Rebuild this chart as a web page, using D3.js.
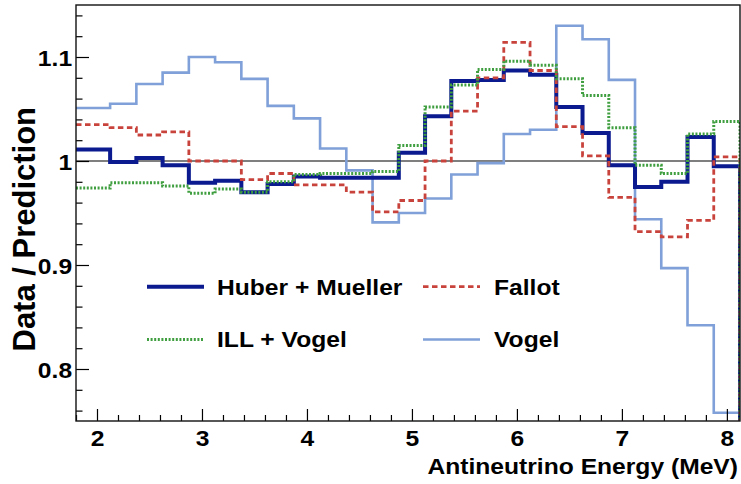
<!DOCTYPE html>
<html>
<head>
<meta charset="utf-8">
<script src="https://cdn.jsdelivr.net/npm/d3@7"></script>
<style>
  html, body { margin: 0; padding: 0; background: #fff; }
  svg { display: block; }
  text { font-family: "Liberation Sans", Arial, Helvetica, sans-serif; font-weight: bold; fill: #000; }
</style>
</head>
<body>
<svg id="chart" width="741" height="484"></svg>
<script>
// Bin edges in antineutrino energy (MeV)
const binEdges = [1.8, 2.125, 2.375, 2.625, 2.875, 3.125, 3.375, 3.625, 3.875, 4.125,
  4.375, 4.625, 4.875, 5.125, 5.375, 5.625, 5.875, 6.125, 6.375, 6.625,
  6.875, 7.125, 7.375, 7.625, 7.875, 8.125];

// Data / prediction ratio per bin for each flux model
const huberMueller = [1.011, 0.999, 1.003, 0.996, 0.979, 0.981, 0.970, 0.978, 0.985, 0.984,
  0.984, 0.984, 1.008, 1.043, 1.077, 1.078, 1.087, 1.083, 1.052, 1.027,
  0.996, 0.975, 0.980, 1.023, 0.995];
const fallot = [1.035, 1.032, 1.025, 1.028, 1.000, 1.000, 0.982, 0.988, 0.977, 0.977,
  0.970, 0.951, 0.962, 1.000, 1.048, 1.080, 1.114, 1.087, 1.033, 1.005,
  0.965, 0.932, 0.927, 0.943, 1.004];
const illVogel = [0.974, 0.979, 0.979, 0.976, 0.969, 0.973, 0.970, 0.980, 0.987, 0.988,
  0.988, 0.990, 1.015, 1.052, 1.073, 1.088, 1.096, 1.092, 1.079, 1.063,
  1.032, 0.996, 0.988, 1.026, 1.038];
const vogel = [1.051, 1.055, 1.074, 1.085, 1.100, 1.095, 1.079, 1.053, 1.041, 1.012,
  0.991, 0.941, 0.950, 0.964, 0.987, 0.998, 1.026, 1.030, 1.130, 1.117,
  1.078, 0.944, 0.897, 0.842, 0.758];

const seriesNames = ["Huber + Mueller", "Fallot", "ILL + Vogel", "Vogel"];
const xTickValues = [2, 3, 4, 5, 6, 7, 8];
const yTickValues = [0.8, 0.9, 1.0, 1.1];
const xDomain = [1.8, 8.125];
const yDomain = [0.75, 1.15];
const xTitle = "Antineutrino Energy (MeV)";
const yTitle = "Data / Prediction";

const svg = d3.select("#chart");
const plot = { left: 76, right: 740, top: 5, bottom: 421 };
const STRETCH = 1.12; // wide-set lettering

const x = d3.scaleLinear().domain(xDomain).range([plot.left, plot.right]);
const y = d3.scaleLinear().domain(yDomain).range([plot.bottom, plot.top]);

svg.append("defs").append("clipPath").attr("id", "plotClip")
  .append("rect")
  .attr("x", plot.left).attr("y", plot.top)
  .attr("width", plot.right - plot.left).attr("height", plot.bottom - plot.top);

// Reference line at ratio = 1
svg.append("line")
  .attr("x1", x(xDomain[0])).attr("x2", x(xDomain[1]))
  .attr("y1", y(1)).attr("y2", y(1))
  .attr("stroke", "#000").attr("stroke-width", 1.2);

// Step histograms
const series = [
  { name: seriesNames[3], values: vogel,        color: "#7fa0d8", width: 2.6, dash: null },
  { name: seriesNames[0], values: huberMueller, color: "#0b1b8f", width: 4,   dash: null },
  { name: seriesNames[1], values: fallot,       color: "#c9433d", width: 2.8, dash: "5.5,3.5" },
  { name: seriesNames[2], values: illVogel,     color: "#3f9e3f", width: 3,   dash: "2,1.6" }
];

const line = d3.line().x(d => x(d[0])).y(d => y(d[1]));

function stepPoints(values) {
  const pts = [];
  values.forEach((v, i) => {
    pts.push([binEdges[i], v]);
    pts.push([binEdges[i + 1], v]);
  });
  // histogram closes down to zero after the last bin
  pts.push([binEdges[binEdges.length - 1], yDomain[0] - 0.01]);
  return pts;
}

const gHist = svg.append("g").attr("clip-path", "url(#plotClip)");
series.forEach(s => {
  gHist.append("path")
    .attr("d", line(stepPoints(s.values)))
    .attr("fill", "none")
    .attr("stroke", s.color)
    .attr("stroke-width", s.width)
    .attr("stroke-dasharray", s.dash)
    .attr("stroke-linejoin", "miter")
    .attr("stroke-linecap", "butt");
});

// Axes: ticks point inward, minor ticks shorter
const xMinor = d3.range(18, 81, 2).map(v => v / 10).filter(v => xTickValues.indexOf(v) < 0);
const yMinor = d3.range(76, 115, 2).map(v => v / 100).filter(v => yTickValues.every(t => Math.abs(t - v) > 1e-6));

const gx = svg.append("g").attr("transform", `translate(0,${plot.bottom})`);
gx.call(d3.axisBottom(x).tickValues(xMinor).tickSize(-6).tickFormat(""));
gx.call(g => g.select(".domain").remove());
const gxMajor = svg.append("g").attr("transform", `translate(0,${plot.bottom})`)
  .call(d3.axisBottom(x).tickValues(xTickValues).tickSize(-12).tickPadding(9.4).tickFormat(d3.format("d")));
gxMajor.select(".domain").remove();
gxMajor.selectAll("text")
  .attr("font-size", 22)
  .attr("transform", `scale(${STRETCH},1)`);

const gy = svg.append("g").attr("transform", `translate(${plot.left},0)`);
gy.call(d3.axisLeft(y).tickValues(yMinor).tickSize(-6.5).tickFormat(""));
gy.call(g => g.select(".domain").remove());
const gyMajor = svg.append("g").attr("transform", `translate(${plot.left},0)`)
  .call(d3.axisLeft(y).tickValues(yTickValues).tickSize(-13).tickPadding(3.5)
    .tickFormat(d => d === 1 ? "1" : d3.format(".1f")(d)));
gyMajor.select(".domain").remove();
gyMajor.selectAll("text")
  .attr("font-size", 22)
  .attr("dy", "0.39em")
  .attr("transform", `scale(${STRETCH},1)`);

svg.selectAll(".tick line").attr("stroke", "#000").attr("stroke-width", 1.2);

// Frame
svg.append("rect")
  .attr("x", plot.left).attr("y", plot.top)
  .attr("width", plot.right - plot.left).attr("height", plot.bottom - plot.top)
  .attr("fill", "none").attr("stroke", "#111").attr("stroke-width", 1.4);

// Axis titles
svg.append("text")
  .attr("text-anchor", "end")
  .attr("font-size", 22)
  .attr("transform", `translate(738,474) scale(${STRETCH},1)`)
  .text(xTitle);

svg.append("text")
  .attr("text-anchor", "end")
  .attr("font-size", 31)
  .attr("transform", `translate(35,107) scale(1.02,1) rotate(-90)`)
  .text(yTitle);

// Legend
const legendItems = [
  { s: series[1], lx: 147, ly: 286.7, tx: 217, ty: 295 },
  { s: series[2], lx: 423, ly: 286.7, tx: 494, ty: 295 },
  { s: series[3], lx: 147, ly: 339.5, tx: 217, ty: 346.5 },
  { s: series[0], lx: 423, ly: 339.5, tx: 494, ty: 346.5 }
];
const gLeg = svg.append("g");
legendItems.forEach(item => {
  gLeg.append("line")
    .attr("x1", item.lx).attr("x2", item.lx + 57)
    .attr("y1", item.ly).attr("y2", item.ly)
    .attr("stroke", item.s.color)
    .attr("stroke-width", item.s.width)
    .attr("stroke-dasharray", item.s.dash);
  gLeg.append("text")
    .attr("font-size", 22)
    .attr("transform", `translate(${item.tx},${item.ty}) scale(${STRETCH},1)`)
    .text(item.s.name);
});
</script>
</body>
</html>
